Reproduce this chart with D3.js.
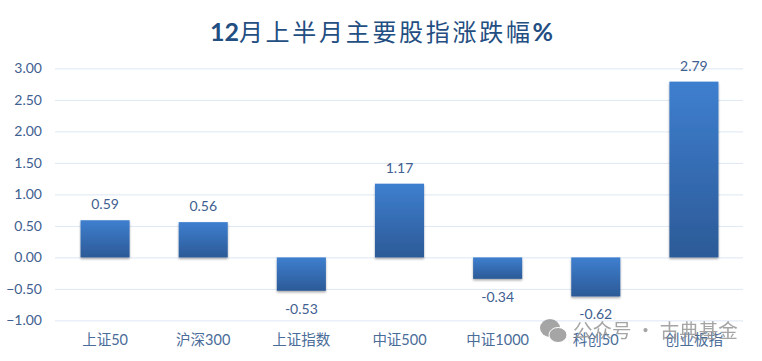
<!DOCTYPE html>
<html>
<head>
<meta charset="utf-8">
<script src="https://cdn.jsdelivr.net/npm/d3@7"></script>
<style>
  html, body { margin: 0; padding: 0; background: #fff; }
  svg { display: block; }
</style>
</head>
<body>
<svg id="chart" width="762" height="361"></svg>
<script>
const categories = ["上证50", "沪深300", "上证指数", "中证500", "中证1000", "科创50", "创业板指"];
const values = [0.59, 0.56, -0.53, 1.17, -0.34, -0.62, 2.79];
const yTicks = [-1, -0.5, 0, 0.5, 1, 1.5, 2, 2.5, 3];

const svg = d3.select("#chart"),
    width = +svg.attr("width"),
    height = +svg.attr("height");

const numFont = "Lato, 'Noto Sans', sans-serif",
    cjkFont = "Lato, 'Noto Sans CJK SC', sans-serif",
    textColor = "#3f6090";

const x = d3.scaleBand().domain(categories).range([56, 743]).paddingInner(0.5).paddingOuter(0.25);
const y = d3.scaleLinear().domain([-1, 3]).range([320.4, 68.4]);

const defs = svg.append("defs");
const grad = defs.append("linearGradient")
    .attr("id", "barFill")
    .attr("x1", 0).attr("y1", 0).attr("x2", 0).attr("y2", 1);
grad.append("stop").attr("offset", "0%").attr("stop-color", "#3e7fcf");
grad.append("stop").attr("offset", "100%").attr("stop-color", "#2c5a97");

const shadow = defs.append("filter")
    .attr("id", "barShadow")
    .attr("x", "-20%").attr("y", "-20%").attr("width", "140%").attr("height", "140%");
shadow.append("feDropShadow")
    .attr("dx", 0).attr("dy", 1.5).attr("stdDeviation", 1.2)
    .attr("flood-color", "#000").attr("flood-opacity", 0.35);

// title
const title = svg.append("text")
    .attr("x", 381.5).attr("y", 40.5)
    .attr("text-anchor", "middle")
    .attr("fill", "#234e82")
    .attr("font-family", cjkFont)
    .attr("font-size", 24);
title.append("tspan").attr("font-weight", 700).attr("font-size", 25).text("12");
title.append("tspan").attr("letter-spacing", 2.7).text("月上半月主要股指涨跌幅");
title.append("tspan").attr("font-weight", 700).attr("font-size", 25).text("%");

// y axis with gridlines
const yAxis = svg.append("g")
    .attr("transform", "translate(55,0)")
    .call(d3.axisLeft(y).tickValues(yTicks).tickFormat(d3.format(".2f")).tickSize(-688).tickPadding(13));
yAxis.select(".domain").remove();
yAxis.selectAll("line").attr("stroke", "#dde7f3").attr("stroke-width", 1);
yAxis.selectAll("text")
    .attr("fill", textColor)
    .attr("font-family", numFont)
    .attr("font-size", 14);

// bars
svg.append("g").selectAll("rect")
    .data(values)
    .enter().append("rect")
    .attr("x", (d, i) => x(categories[i]))
    .attr("y", d => y(Math.max(d, 0)))
    .attr("width", x.bandwidth())
    .attr("height", d => Math.abs(y(d) - y(0)))
    .attr("fill", "url(#barFill)")
    .attr("filter", "url(#barShadow)");

// value labels
svg.append("g").selectAll("text")
    .data(values)
    .enter().append("text")
    .attr("x", (d, i) => x(categories[i]) + x.bandwidth() / 2)
    .attr("y", d => d >= 0 ? y(d) - 11 : y(d) + 23)
    .attr("text-anchor", "middle")
    .attr("fill", textColor)
    .attr("font-family", numFont)
    .attr("font-size", 14)
    .text(d => d.toFixed(2));

// category labels
svg.append("g").selectAll("text")
    .data(categories)
    .enter().append("text")
    .attr("x", d => x(d) + x.bandwidth() / 2)
    .attr("y", 345)
    .attr("text-anchor", "middle")
    .attr("fill", "#4a6c98")
    .attr("font-family", cjkFont)
    .attr("font-size", 14.5)
    .text(d => d);

// watermark
const mark = svg.append("g").attr("fill", "#8f8f8f").attr("opacity", 0.8);
mark.append("ellipse").attr("cx", 550).attr("cy", 328).attr("rx", 10).attr("ry", 9);
mark.append("ellipse").attr("cx", 558).attr("cy", 335).attr("rx", 9).attr("ry", 7.5).attr("stroke", "#fff").attr("stroke-width", 1);
mark.append("text")
    .attr("x", 573).attr("y", 338)
    .attr("font-family", "'Noto Sans CJK SC', sans-serif")
    .attr("font-size", 19.5)
    .text("公众号 · 古典基金");
</script>
</body>
</html>
